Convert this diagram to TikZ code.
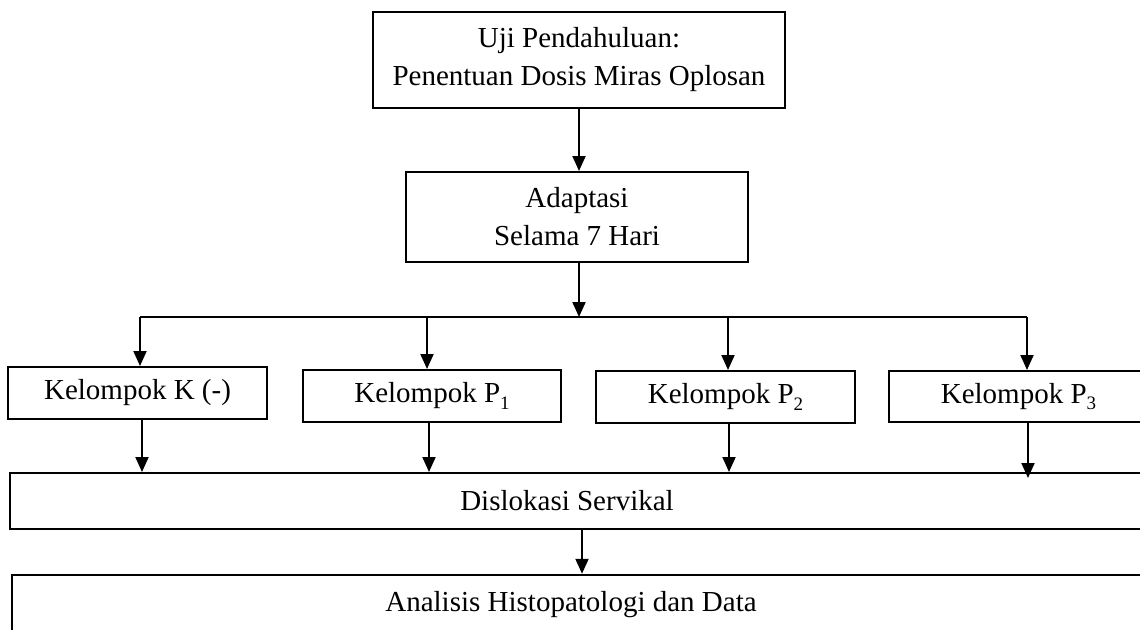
\documentclass[tikz,border=0pt]{standalone}
\usepackage{fontspec}
\setmainfont{Liberation Serif}
\usetikzlibrary{arrows.meta}
\newcommand{\sbs}[1]{\raisebox{-0.22em}{\fontsize{19}{19}\selectfont #1}}
\begin{document}
\begin{tikzpicture}[x=1pt,y=-1pt,
  box/.style={draw, line width=2pt, rectangle, inner sep=0pt, align=center,
     font=\fontsize{29}{38}\selectfont},
  txt/.style={inner sep=0pt, font=\fontsize{29}{38}\selectfont},
  arr/.style={line width=2pt, -{Triangle[width=13pt,length=15pt]}},
  ln/.style={line width=2pt}]
\useasboundingbox (0,0) rectangle (1140,629);
\node[box, minimum width=412pt, minimum height=96pt] (top) at (579,60) {Uji Pendahuluan:\\Penentuan Dosis Miras Oplosan};
\node[box, minimum width=342pt, minimum height=90pt] (adapt) at (577,217) {Adaptasi\\Selama 7 Hari};
\node[box, minimum width=259pt, minimum height=52pt] (k) at (137.5,393) {Kelompok K (-)};
\node[box, minimum width=258pt, minimum height=52pt] (p1) at (432,396) {Kelompok P\sbs{1}};
\node[box, minimum width=259pt, minimum height=52pt] (p2) at (725.5,397) {Kelompok P\sbs{2}};
\node[box, minimum width=259pt, minimum height=51pt] (p3) at (1018.5,396.5) {Kelompok P\sbs{3}};
\node[draw, line width=2pt, inner sep=0pt, minimum width=1150pt, minimum height=56pt] (dis) at (585,501) {};
\node[txt] (distxt) at (567,501) {Dislokasi Servikal};
\node[draw, line width=2.5pt, inner sep=0pt, minimum width=1150pt, minimum height=56pt] (ana) at (587,603) {};
\node[txt] (anatxt) at (571,605) {Analisis Histopatologi dan Data};
\coordinate (jl) at (140,317);
\coordinate (jr) at (1027,317);
\coordinate (jm) at (579,317);
\draw[arr] (579,0 |- top.south) -- (579,0 |- adapt.north);
\draw[arr] (579,0 |- adapt.south) -- (jm);
\draw[ln] (jl) -- (jr);
\draw[arr] (jl) -- (jl |- k.north);
\draw[arr] (427,317) -- (427,0 |- p1.north);
\draw[arr] (728,317) -- (728,0 |- p2.north);
\draw[arr] (jr) -- (jr |- p3.north);
\draw[arr] (142,0 |- k.south) -- (142,0 |- dis.north);
\draw[arr] (429,0 |- p1.south) -- (429,0 |- dis.north);
\draw[arr] (729,0 |- p2.south) -- (729,0 |- dis.north);
\draw[arr] (1028,0 |- p3.south) -- (1028,478);
\draw[arr] (582,0 |- dis.south) -- (582,0 |- ana.north);
\end{tikzpicture}
\end{document}
